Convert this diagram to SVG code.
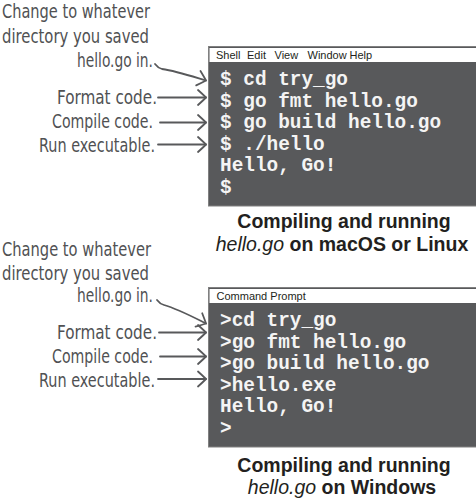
<svg xmlns="http://www.w3.org/2000/svg" width="476" height="499" viewBox="0 0 476 499">
<defs>
<style>
.note{font-family:"Liberation Sans Narrow","DejaVu Sans Condensed",sans-serif;font-size:19px;fill:#505153}
.term{font-family:"Liberation Mono","DejaVu Sans Mono",monospace;font-size:19.4px;font-weight:bold;fill:#f4f4f4}
.bar{font-family:"Liberation Sans",Arial,sans-serif;font-size:11px;fill:#231f20}
.cap{font-family:"Liberation Sans",Arial,sans-serif;font-size:19.5px;font-weight:bold;fill:#231f20;text-anchor:middle}
.cap .it{font-style:italic;font-weight:normal}
.frame{fill:#58595b;stroke:#808080;stroke-width:1}
.title{fill:#ffffff}
.arr{fill:none;stroke:#58595b;stroke-width:1.8;stroke-linecap:round;stroke-linejoin:round;marker-end:url(#chev)}
</style>
<marker id="chev" markerUnits="userSpaceOnUse" markerWidth="14" markerHeight="20" viewBox="-11 -10 14 20" refX="0" refY="0" orient="auto">
<path d="M-8,-7.5 Q-3,-3 0,0 Q-3,3 -8,7.5" fill="none" stroke="#58595b" stroke-width="1.8" stroke-linecap="round" stroke-linejoin="round"/>
</marker>
</defs>
<rect width="476" height="499" fill="#ffffff"/>

<g id="notes-mac">
<text class="note" x="2" y="18" textLength="148" lengthAdjust="spacingAndGlyphs">Change to whatever</text>
<text class="note" x="2" y="43" textLength="147" lengthAdjust="spacingAndGlyphs">directory you saved</text>
<text class="note" x="77" y="67" textLength="76" lengthAdjust="spacingAndGlyphs">hello.go in.</text>
<text class="note" x="57" y="104" textLength="100" lengthAdjust="spacingAndGlyphs">Format code.</text>
<text class="note" x="52" y="128" textLength="101" lengthAdjust="spacingAndGlyphs">Compile code.</text>
<text class="note" x="39" y="152" textLength="116" lengthAdjust="spacingAndGlyphs">Run executable.</text>
</g>

<g id="terminal-mac">
<rect class="frame" x="208.5" y="46.5" width="270" height="159.5"/>
<rect class="title" x="209.5" y="48" width="268" height="14"/>
<text class="bar" x="216" y="58.7">Shell</text>
<text class="bar" x="247" y="58.7">Edit</text>
<text class="bar" x="274.5" y="58.7">View</text>
<text class="bar" x="307.5" y="58.7">Window</text>
<text class="bar" x="349.5" y="58.7">Help</text>
<text class="term" x="220" y="85">$ cd try_go</text>
<text class="term" x="220" y="106.6">$ go fmt hello.go</text>
<text class="term" x="220" y="128.2">$ go build hello.go</text>
<text class="term" x="220" y="149.8">$ ./hello</text>
<text class="term" x="220" y="171.4">Hello, Go!</text>
<text class="term" x="220" y="193">$</text>
</g>

<g id="caption-mac">
<text class="cap" x="344" y="228">Compiling and running</text>
<text class="cap" x="342" y="251"><tspan class="it">hello.go</tspan> on macOS or Linux</text>
</g>

<g id="notes-win">
<text class="note" x="2" y="256" textLength="149" lengthAdjust="spacingAndGlyphs">Change to whatever</text>
<text class="note" x="2" y="280" textLength="147" lengthAdjust="spacingAndGlyphs">directory you saved</text>
<text class="note" x="77" y="302" textLength="76" lengthAdjust="spacingAndGlyphs">hello.go in.</text>
<text class="note" x="57" y="339" textLength="100" lengthAdjust="spacingAndGlyphs">Format code.</text>
<text class="note" x="52" y="363" textLength="101" lengthAdjust="spacingAndGlyphs">Compile code.</text>
<text class="note" x="39" y="387" textLength="116" lengthAdjust="spacingAndGlyphs">Run executable.</text>
</g>

<g id="terminal-win">
<rect class="frame" x="208.5" y="287.5" width="270" height="159.5"/>
<rect class="title" x="209.5" y="289" width="268" height="14"/>
<text class="bar" x="216.5" y="299.7">Command Prompt</text>
<text class="term" x="220" y="326">&gt;cd try_go</text>
<text class="term" x="220" y="347.6">&gt;go fmt hello.go</text>
<text class="term" x="220" y="369.2">&gt;go build hello.go</text>
<text class="term" x="220" y="390.8">&gt;hello.exe</text>
<text class="term" x="220" y="412.4">Hello, Go!</text>
<text class="term" x="220" y="434">&gt;</text>
</g>

<g id="caption-win">
<text class="cap" x="344" y="472">Compiling and running</text>
<text class="cap" x="342" y="494"><tspan class="it">hello.go</tspan> on Windows</text>
</g>

<g id="connectors">
<path class="arr" d="M155,64 Q158,68 162,69 C176,71 191,76 206,80.5"/>
<path class="arr" d="M158,97.5 L206,97.5"/>
<path class="arr" d="M160,122.5 L206,122.5"/>
<path class="arr" d="M158,144.5 L206,144.5"/>
<path class="arr" d="M157,300 Q160,304 164,305 C178,309 193,317 206,323.5"/>
<path class="arr" d="M159,332.5 L206,332.5"/>
<path class="arr" d="M160,356.5 L206,356.5"/>
<path class="arr" d="M158,379 L206,379"/>
</g>
</svg>
